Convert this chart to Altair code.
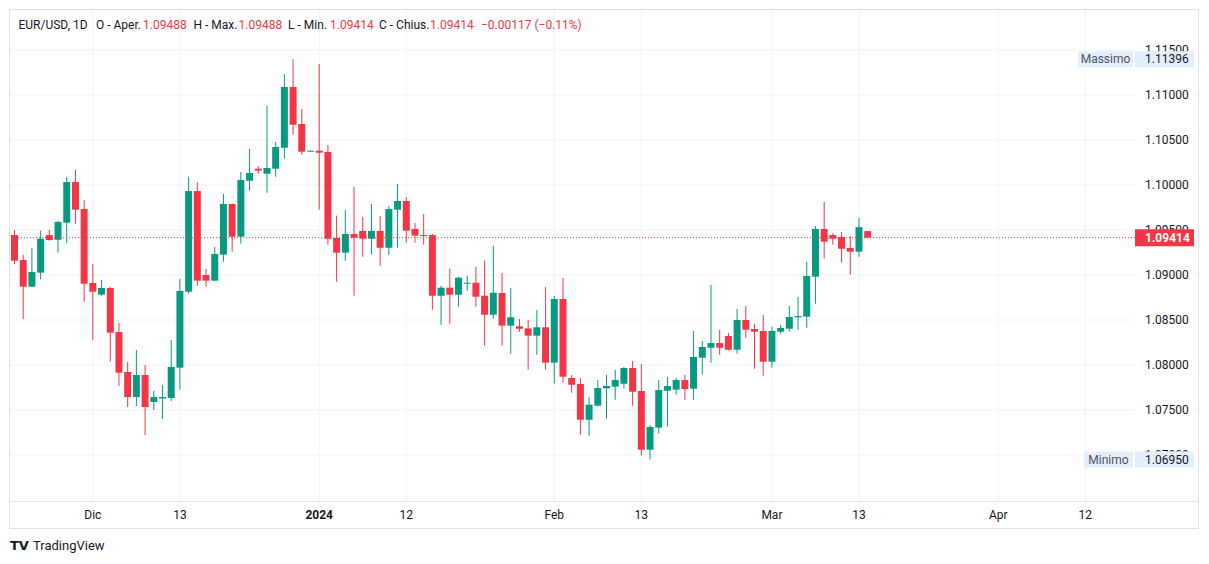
import altair as alt
import pandas as pd

# ---------------- data ----------------
opens = [1.09444, 1.09167, 1.08870, 1.09026, 1.09444, 1.09392, 1.09581, 1.10033, 1.09733, 1.08911,
         1.08781, 1.08856, 1.08367, 1.07922, 1.07644, 1.07889, 1.07589, 1.07628, 1.07633, 1.07970,
         1.08814, 1.09933, 1.09000, 1.08937, 1.09226, 1.09789, 1.09426, 1.10048, 1.10181, 1.10126,
         1.10181, 1.10414, 1.11089, 1.10678, 1.10370, 1.10381, 1.10367, 1.09411, 1.09248, 1.09456,
         1.09489, 1.09403, 1.09489, 1.09303, 1.09726, 1.09822, 1.09511, 1.09444, 1.09444, 1.08770,
         1.08859, 1.08781, 1.08903, 1.08914, 1.08770, 1.08559, 1.08800, 1.08437, 1.08430, 1.08407,
         1.08326, 1.08419, 1.08026, 1.08733, 1.07856, 1.07789, 1.07392, 1.07548, 1.07741, 1.07759,
         1.07792, 1.07967, 1.07711, 1.07059, 1.07304, 1.07714, 1.07726, 1.07833, 1.07737, 1.08081,
         1.08192, 1.08244, 1.08322, 1.08170, 1.08500, 1.08400, 1.08378, 1.08037, 1.08370, 1.08403,
         1.08530, 1.08537, 1.08981, 1.09511, 1.09444, 1.09422, 1.09300, 1.09259, 1.09488]
highs = [1.09500, 1.09222, 1.09303, 1.09492, 1.09500, 1.09600, 1.10092, 1.10167, 1.09833, 1.09122,
         1.08944, 1.08870, 1.08467, 1.08033, 1.08167, 1.08000, 1.07711, 1.07778, 1.08278, 1.08956,
         1.10092, 1.10033, 1.09067, 1.09311, 1.09900, 1.09795, 1.10144, 1.10400, 1.10211, 1.10878,
         1.10478, 1.11233, 1.11396, 1.10844, 1.10385, 1.11344, 1.10444, 1.09659, 1.09722, 1.09981,
         1.09644, 1.09789, 1.09656, 1.09767, 1.10011, 1.09867, 1.09578, 1.09678, 1.09456, 1.08881,
         1.09070, 1.08981, 1.08992, 1.09092, 1.09159, 1.09326, 1.09022, 1.08856, 1.08511, 1.08500,
         1.08611, 1.08867, 1.08767, 1.08967, 1.07889, 1.07856, 1.07644, 1.07833, 1.07889, 1.07944,
         1.07978, 1.08044, 1.08011, 1.07333, 1.07833, 1.07867, 1.07856, 1.07889, 1.08378, 1.08267,
         1.08889, 1.08389, 1.08356, 1.08622, 1.08656, 1.08456, 1.08556, 1.08422, 1.08444, 1.08656,
         1.08756, 1.09144, 1.09544, 1.09811, 1.09467, 1.09478, 1.09433, 1.09633, 1.09488]
lows = [1.09122, 1.08511, 1.08866, 1.08952, 1.09381, 1.09248, 1.09352, 1.09570, 1.08703, 1.08278,
        1.08770, 1.08037, 1.07767, 1.07533, 1.07544, 1.07222, 1.07500, 1.07400, 1.07600, 1.07726,
        1.08792, 1.08881, 1.08870, 1.08930, 1.09148, 1.09259, 1.09348, 1.09937, 1.10126, 1.09914,
        1.10092, 1.10292, 1.10559, 1.10337, 1.10365, 1.09726, 1.09337, 1.08926, 1.09159, 1.08770,
        1.09203, 1.09226, 1.09103, 1.09226, 1.09303, 1.09359, 1.09359, 1.09337, 1.08614, 1.08448,
        1.08459, 1.08648, 1.08826, 1.08648, 1.08214, 1.08514, 1.08214, 1.08126, 1.08370, 1.07948,
        1.08114, 1.07948, 1.07792, 1.07803, 1.07692, 1.07226, 1.07214, 1.07537, 1.07403, 1.07614,
        1.07737, 1.07548, 1.06992, 1.06950, 1.07237, 1.07314, 1.07670, 1.07614, 1.07614, 1.07892,
        1.08026, 1.08114, 1.08159, 1.08126, 1.08303, 1.07959, 1.07881, 1.07970, 1.08348, 1.08370,
        1.08392, 1.08414, 1.08681, 1.09181, 1.09337, 1.09137, 1.09003, 1.09203, 1.09414]
closes = [1.09159, 1.08870, 1.09033, 1.09403, 1.09389, 1.09589, 1.10033, 1.09726, 1.08903, 1.08814,
          1.08856, 1.08359, 1.07914, 1.07644, 1.07889, 1.07533, 1.07644, 1.07644, 1.07978, 1.08822,
          1.09933, 1.08937, 1.08937, 1.09233, 1.09789, 1.09426, 1.10056, 1.10133, 1.10159, 1.10189,
          1.10422, 1.11089, 1.10670, 1.10370, 1.10381, 1.10359, 1.09403, 1.09248, 1.09456, 1.09414,
          1.09403, 1.09489, 1.09303, 1.09733, 1.09822, 1.09492, 1.09437, 1.09433, 1.08770, 1.08859,
          1.08781, 1.08970, 1.08914, 1.08759, 1.08559, 1.08803, 1.08437, 1.08530, 1.08403, 1.08326,
          1.08419, 1.08026, 1.08733, 1.07870, 1.07781, 1.07392, 1.07559, 1.07744, 1.07767, 1.07833,
          1.07967, 1.07703, 1.07059, 1.07311, 1.07722, 1.07767, 1.07833, 1.07733, 1.08089, 1.08200,
          1.08244, 1.08192, 1.08170, 1.08500, 1.08392, 1.08370, 1.08037, 1.08378, 1.08411, 1.08533,
          1.08544, 1.08989, 1.09511, 1.09370, 1.09403, 1.09292, 1.09259, 1.09531, 1.09414]

x_tick_pos = [9, 19, 35, 45, 62, 72, 87, 97, 113, 123]
x_tick_labels = ["Dic", "13", "2024", "12", "Feb", "13", "Mar", "13", "Apr", "12"]
bold_label = "2024"
y_ticks = [1.070, 1.075, 1.080, 1.085, 1.090, 1.095, 1.100, 1.105, 1.110, 1.115]
symbol = "EUR/USD, 1D"
header_names = ["O - Aper.", "H - Max.", "L - Min.", "C - Chius."]
max_name, min_name = "Massimo", "Minimo"

# ---------------- styling / layout ----------------
GREEN = "#089981"
RED = "#f23645"
DARK = "#131722"
GRID = "#f0f3fa"
FRAME = "#e0e3eb"
BOXBLUE = "#e3effd"
FONT = "Roboto"
W, H = 1126, 492
x_dom = [-0.057, 128.13]
y_dom = [1.064889, 1.119556]

n = len(opens)
df = pd.DataFrame({"i": list(range(n)), "open": opens, "high": highs,
                   "low": lows, "close": closes})
df["dir"] = ["up" if c >= o else "down" for o, c in zip(opens, closes)]

xs = alt.Scale(domain=x_dom, nice=False, zero=False)
ys = alt.Scale(domain=y_dom, nice=False, zero=False)
cs = alt.Scale(domain=["up", "down"], range=[GREEN, RED])

xt = pd.DataFrame({"pos": x_tick_pos, "label": x_tick_labels})
yt = pd.DataFrame({"v": y_ticks, "label": [f"{v:.5f}" for v in y_ticks]})

x_enc = alt.X("pos:Q", scale=xs, axis=None)
y_enc = alt.Y("v:Q", scale=ys, axis=None)

x_grid = alt.Chart(xt).mark_rule(color=GRID, strokeWidth=1).encode(
    x=x_enc, y=alt.value(0), y2=alt.value(H))
y_grid = alt.Chart(yt).mark_rule(color=GRID, strokeWidth=1).encode(
    y=y_enc, x=alt.value(0), x2=alt.value(W))
x_labels = alt.Chart(xt[xt["label"] != bold_label]).mark_text(
    baseline="middle", align="center", font=FONT, fontSize=12, color=DARK).encode(
    x=x_enc, y=alt.value(H + 14), text="label:N")
x_labels_bold = alt.Chart(xt[xt["label"] == bold_label]).mark_text(
    baseline="middle", align="center", font=FONT, fontSize=12, color=DARK,
    fontWeight="bold").encode(
    x=x_enc, y=alt.value(H + 14), text="label:N")
y_labels = alt.Chart(yt).mark_text(baseline="middle", align="left", font=FONT,
                                   fontSize=12, color=DARK).encode(
    y=y_enc, x=alt.value(W + 10), text="label:N")

color_enc = alt.Color("dir:N", scale=cs, legend=None)

wicks = alt.Chart(df).mark_rule(strokeWidth=1, clip=True).encode(
    x=alt.X("i:Q", scale=xs, axis=None),
    y=alt.Y("low:Q", scale=ys, axis=None),
    y2="high:Q",
    color=color_enc,
)
bodies = alt.Chart(df).mark_bar(size=7, clip=True).encode(
    x=alt.X("i:Q", scale=xs, axis=None),
    y=alt.Y("open:Q", scale=ys, axis=None),
    y2="close:Q",
    color=color_enc,
)

last = pd.DataFrame({"v": [closes[-1]], "label": [f"{closes[-1]:.5f}"]})
price_line = alt.Chart(last).mark_rule(color=RED, strokeWidth=1, strokeDash=[1, 2]).encode(
    y=y_enc, x=alt.value(0), x2=alt.value(W))
price_box = alt.Chart(last).mark_rule(color=RED, strokeWidth=17).encode(
    y=y_enc, x=alt.value(W), x2=alt.value(W + 59))
price_txt = alt.Chart(last).mark_text(align="left", baseline="middle", color="white",
                                      fontWeight="bold", font=FONT, fontSize=12).encode(
    y=y_enc, x=alt.value(W + 10), text="label:N")

layers = [x_grid, y_grid, x_labels, x_labels_bold, y_labels, wicks, bodies,
          price_line, price_box, price_txt]

# Massimo / Minimo labels
for name, val, left in [(max_name, max(highs), 1069), (min_name, min(lows), 1075)]:
    d = pd.DataFrame({"v": [val], "label": [f"{val:.5f}"], "name": [name]})
    layers.append(alt.Chart(d).mark_rule(color=BOXBLUE, strokeWidth=16).encode(
        y=y_enc, x=alt.value(W), x2=alt.value(W + 59)))
    layers.append(alt.Chart(d).mark_rule(color=BOXBLUE, strokeWidth=16).encode(
        y=y_enc, x=alt.value(left), x2=alt.value(W - 2)))
    layers.append(alt.Chart(d).mark_text(align="left", baseline="middle", color=DARK,
                                         font=FONT, fontSize=12).encode(
        y=y_enc, x=alt.value(W + 10), text="label:N"))
    layers.append(alt.Chart(d).mark_text(align="center", baseline="middle", color="#50535e",
                                         font=FONT, fontSize=12).encode(
        y=y_enc, x=alt.value((left + W - 2) / 2), text="name:N"))

# frame lines
one = pd.DataFrame({"a": [0]})
R = 1189.5
B = 519.5
frame_segments = [
    (0.5, R, 0.5, 0.5),
    (0.5, R, B, B),
    (0.5, R, H + 0.5, H + 0.5),
    (0.5, 0.5, 0.5, B),
    (R, R, 0.5, B),
]
for x1, x2, y1, y2 in frame_segments:
    layers.append(alt.Chart(one).mark_rule(color=FRAME, strokeWidth=1).encode(
        x=alt.value(x1), x2=alt.value(x2), y=alt.value(y1), y2=alt.value(y2)))

# header legend
chg = closes[-1] - closes[-2]
pct = chg / closes[-2] * 100


def fmt_signed(v, spec):
    s = format(abs(v), spec)
    return ("\u2212" if v < 0 else "+") + s


header = [
    (symbol, 9.5, DARK),
    (header_names[0], 87, DARK), (f"{opens[-1]:.5f}", 134, RED),
    (header_names[1], 184.5, DARK), (f"{highs[-1]:.5f}", 229.5, RED),
    (header_names[2], 279, DARK), (f"{lows[-1]:.5f}", 321, RED),
    (header_names[3], 370, DARK), (f"{closes[-1]:.5f}", 421, RED),
    (f"{fmt_signed(chg, '.5f')} ({fmt_signed(pct, '.2f')}%)", 472, RED),
]
for txt, xp, col in header:
    layers.append(alt.Chart(one).mark_text(align="left", baseline="middle", color=col,
                                           font=FONT, fontSize=12).encode(
        x=alt.value(xp), y=alt.value(16), text=alt.value(txt)))

# TradingView mark
layers.append(alt.Chart(one).mark_text(align="left", baseline="middle", color=DARK,
                                       font="DejaVu Sans", fontSize=13, fontWeight="bold").encode(
    x=alt.value(1), y=alt.value(537), text=alt.value("TV")))
layers.append(alt.Chart(one).mark_text(align="left", baseline="middle", color=DARK,
                                       font=FONT, fontSize=13).encode(
    x=alt.value(24), y=alt.value(537), text=alt.value("TradingView")))

chart = alt.layer(*layers).properties(
    width=W, height=H,
    autosize=alt.AutoSizeParams(type="none"),
    padding={"left": 1, "top": 1, "right": 66, "bottom": 55},
    background="white",
).configure_view(stroke=None)

chart.save("out.html", embed_options={"renderer": "svg", "actions": False})
